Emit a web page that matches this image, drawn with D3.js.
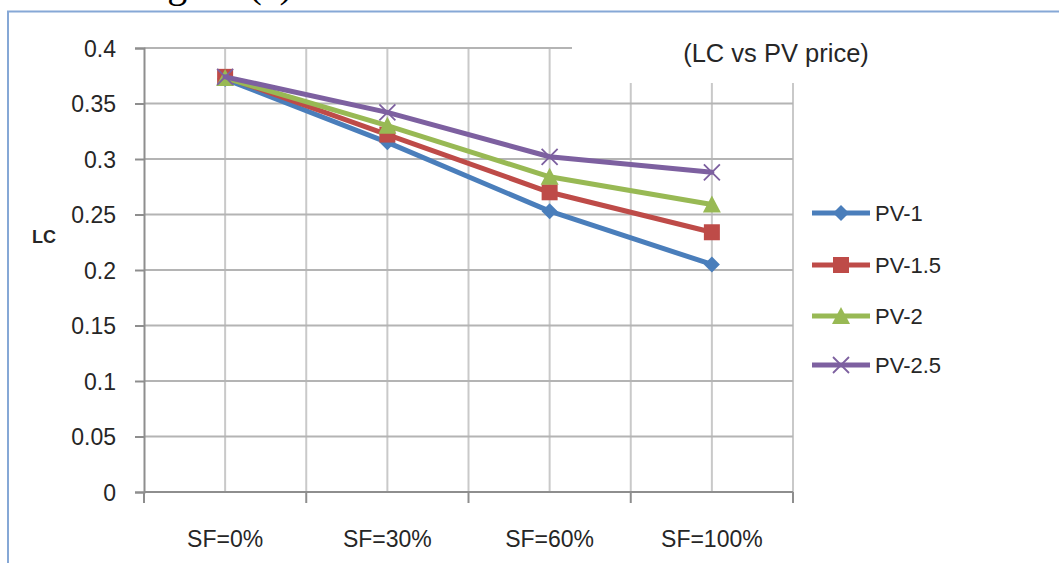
<!DOCTYPE html>
<html>
<head>
<meta charset="utf-8">
<script src="https://cdn.jsdelivr.net/npm/d3@7"></script>
<style>
  html, body { margin: 0; padding: 0; background: #fff; }
  svg { display: block; }
  text { font-family: "Liberation Sans", Arial, sans-serif; fill: #262626; }
</style>
</head>
<body>
<svg id="chart" width="1059" height="563"></svg>
<script>
// Categories and series (LC against solar fraction, for each PV price)
const categories = ["SF=0%", "SF=30%", "SF=60%", "SF=100%"];
const seriesNames = ["PV-1", "PV-1.5", "PV-2", "PV-2.5"];
const pv1   = [0.372, 0.315, 0.253, 0.205];
const pv15  = [0.374, 0.322, 0.270, 0.234];
const pv2   = [0.373, 0.330, 0.284, 0.259];
const pv25  = [0.374, 0.342, 0.302, 0.288];
const yTicks = [0, 0.05, 0.1, 0.15, 0.2, 0.25, 0.3, 0.35, 0.4];
const yTickLabels = ["0", "0.05", "0.1", "0.15", "0.2", "0.25", "0.3", "0.35", "0.4"];

const colors = ["#4A7EBB", "#BE4B48", "#98B954", "#7D60A0"];
const symbols = ["diamond", "square", "triangle", "cross"];
const seriesValues = [pv1, pv15, pv2, pv25];
const series = seriesNames.map((name, i) => ({ name, values: seriesValues[i], color: colors[i], symbol: symbols[i] }));

const svg = d3.select("#chart");

// Caption of the figure above the chart frame
svg.append("text")
  .attr("x", 134).attr("y", -3)
  .style("font-family", "'Liberation Serif', 'Times New Roman', serif")
  .style("font-size", "40px").style("fill", "#000")
  .text("Figure (a)");

// Chart frame
svg.append("path")
  .attr("d", "M8,563 V11.5 H1059")
  .attr("fill", "none").attr("stroke", "#86A8D6").attr("stroke-width", 2);

const plot = { left: 144, right: 793, top: 48, bottom: 492 };

const x = d3.scaleBand().domain(categories).range([plot.left, plot.right]).paddingInner(0).paddingOuter(0);
const y = d3.scaleLinear().domain([0, 0.4]).range([plot.bottom, plot.top]);
const cx = c => x(c) + x.bandwidth() / 2;

const g = svg.append("g");

// Vertical gridlines at category centres and boundaries
const vLines = [];
categories.forEach(c => { vLines.push(x(c)); vLines.push(cx(c)); });
vLines.push(plot.right);
g.selectAll("line.vgrid").data(vLines.filter(v => v > plot.left + 1)).enter()
  .append("line").attr("class", "vgrid")
  .attr("x1", d => d).attr("x2", d => d)
  .attr("y1", plot.top).attr("y2", plot.bottom)
  .attr("stroke", "#C9C9C9").attr("stroke-width", 2);

// Horizontal gridlines
g.selectAll("line.hgrid").data(yTicks.filter(t => t > 0)).enter()
  .append("line").attr("class", "hgrid")
  .attr("x1", plot.left).attr("x2", plot.right)
  .attr("y1", d => y(d)).attr("y2", d => y(d))
  .attr("stroke", "#B4B4B4").attr("stroke-width", 2);

// Y axis
const yAxis = d3.axisLeft(y).tickValues(yTicks)
  .tickFormat((d, i) => yTickLabels[i]).tickSize(9).tickPadding(19);
const ya = g.append("g").attr("transform", `translate(${plot.left},0)`).call(yAxis);
ya.select(".domain").attr("stroke", "#8E8E8E").attr("stroke-width", 2);
ya.selectAll(".tick line").attr("stroke", "#8E8E8E").attr("stroke-width", 2);
ya.selectAll(".tick text").style("font-size", "23px").style("fill", "#262626").attr("dy", "0.36em");

// X axis: ticks at category boundaries, labels at centres
const xa = g.append("g").attr("transform", `translate(0,${plot.bottom})`);
xa.append("line").attr("x1", plot.left).attr("x2", plot.right)
  .attr("stroke", "#8E8E8E").attr("stroke-width", 2);
const bounds = categories.map(c => x(c)).concat([plot.right]);
xa.selectAll("line.xt").data(bounds).enter().append("line").attr("class", "xt")
  .attr("x1", d => d).attr("x2", d => d).attr("y1", 0).attr("y2", 11)
  .attr("stroke", "#8E8E8E").attr("stroke-width", 2);
xa.selectAll("text").data(categories).enter().append("text")
  .attr("x", d => cx(d)).attr("y", 55)
  .attr("text-anchor", "middle").style("font-size", "23px")
  .text(d => d);

// Axis title
svg.append("text").attr("x", 44).attr("y", 243).attr("text-anchor", "middle")
  .style("font-size", "18px").style("font-weight", "bold").text("LC");

// Chart title with white backing
svg.append("rect").attr("x", 572).attr("y", 28).attr("width", 318).attr("height", 55).attr("fill", "#fff");
svg.append("text").attr("x", 776).attr("y", 62).attr("text-anchor", "middle")
  .style("font-size", "25.5px").text("(LC vs PV price)");

// Marker drawing
function marker(sel, sym, color) {
  if (sym === "diamond") {
    sel.append("path").attr("d", "M0,-8 L8,0 L0,8 L-8,0 Z").attr("fill", color);
  } else if (sym === "square") {
    sel.append("rect").attr("x", -8).attr("y", -8).attr("width", 16).attr("height", 16).attr("fill", color);
  } else if (sym === "triangle") {
    sel.append("path").attr("d", "M0,-9 L9,8 L-9,8 Z").attr("fill", color);
  } else {
    sel.append("path").attr("d", "M-8,-8 L8,8 M-8,8 L8,-8")
      .attr("stroke", color).attr("stroke-width", 1.8).attr("fill", "none");
  }
}

const line = d3.line().x((d, i) => cx(categories[i])).y(d => y(d));

series.forEach(s => {
  const sg = g.append("g");
  sg.append("path").datum(s.values).attr("d", line)
    .attr("fill", "none").attr("stroke", s.color).attr("stroke-width", 5)
    .attr("stroke-linejoin", "round").attr("stroke-linecap", "round");
  s.values.forEach((v, i) => {
    const m = sg.append("g").attr("transform", `translate(${cx(categories[i])},${y(v)})`);
    marker(m, s.symbol, s.color);
  });
});

// Legend
const legendRows = [213, 265, 316, 365];
series.forEach((s, i) => {
  const lg = svg.append("g").attr("transform", `translate(812,${legendRows[i]})`);
  lg.append("line").attr("x1", 0).attr("x2", 58).attr("y1", 0).attr("y2", 0)
    .attr("stroke", s.color).attr("stroke-width", 5);
  const m = lg.append("g").attr("transform", "translate(29,0)");
  marker(m, s.symbol, s.color);
  lg.append("text").attr("x", 63).attr("y", 0).attr("dy", "0.36em")
    .style("font-size", "22px").text(s.name);
});
</script>
</body>
</html>
